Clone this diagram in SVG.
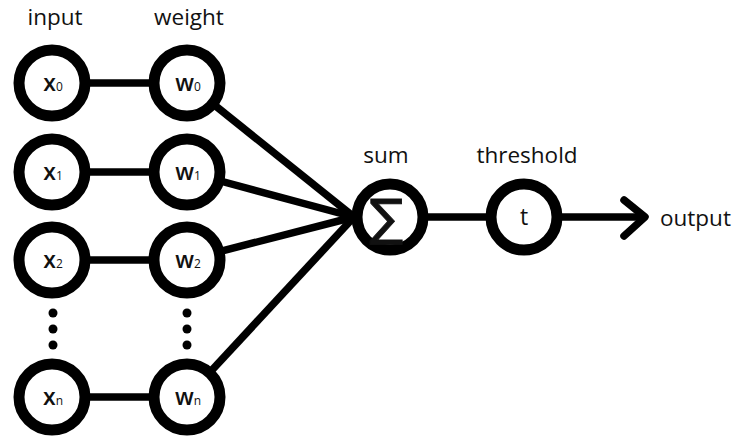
<svg xmlns="http://www.w3.org/2000/svg" width="737" height="439" viewBox="0 0 737 439">
  <style>
    .node { fill: #fff; stroke: #000; stroke-width: 11; }
    .edge { stroke: #000; stroke-width: 7.5; fill: none; }
    .lbl { font-family: "Open Sans", "Noto Sans", "DejaVu Sans", sans-serif; font-size: 22.5px; fill: #111; }
    .sym { font-family: "Open Sans", "Noto Sans", "DejaVu Sans", sans-serif; font-size: 23px; font-weight: 600; fill: #111; text-anchor: middle; }
    .sub { font-size: 12px; font-weight: 400; }
  </style>
  <rect width="737" height="439" fill="#fff"/>

  <g id="connectors">
    <line class="edge" x1="52" y1="83" x2="187" y2="83"/>
    <line class="edge" x1="52" y1="172" x2="187" y2="172"/>
    <line class="edge" x1="52" y1="260" x2="187" y2="260"/>
    <line class="edge" x1="52" y1="397" x2="187" y2="397"/>
    <line class="edge" x1="187" y1="83" x2="354" y2="217"/>
    <line class="edge" x1="187" y1="172" x2="354" y2="217"/>
    <line class="edge" x1="187" y1="260" x2="354" y2="217"/>
    <line class="edge" x1="187" y1="397" x2="354" y2="217"/>
    <line class="edge" x1="390" y1="217" x2="524" y2="217"/>
    <line class="edge" x1="524" y1="217" x2="644" y2="217"/>
    <polyline class="edge" points="624,200 645,217 624,236" stroke-linecap="round" stroke-linejoin="round" stroke-width="8"/>
    <!-- ellipsis dots between rows -->
    <circle cx="53" cy="313" r="4.5" fill="#000"/>
    <circle cx="53" cy="329" r="4.5" fill="#000"/>
    <circle cx="53" cy="345" r="4.5" fill="#000"/>
    <circle cx="187" cy="313" r="4.5" fill="#000"/>
    <circle cx="187" cy="329" r="4.5" fill="#000"/>
    <circle cx="187" cy="345" r="4.5" fill="#000"/>
  </g>

  <text class="lbl" x="55" y="25" text-anchor="middle">input</text>
  <text class="lbl" x="189" y="25" text-anchor="middle">weight</text>
  <text class="lbl" x="386" y="163" text-anchor="middle">sum</text>
  <text class="lbl" x="527" y="163" text-anchor="middle">threshold</text>
  <text class="lbl" x="660" y="226">output</text>

  <g id="x0"><circle class="node" cx="52" cy="83" r="33"/><text class="sym" x="53" y="91">x<tspan class="sub">0</tspan></text></g>
  <g id="x1"><circle class="node" cx="52" cy="172" r="33"/><text class="sym" x="53" y="180">x<tspan class="sub">1</tspan></text></g>
  <g id="x2"><circle class="node" cx="52" cy="260" r="33"/><text class="sym" x="53" y="268">x<tspan class="sub">2</tspan></text></g>
  <g id="xn"><circle class="node" cx="52" cy="397" r="33"/><text class="sym" x="53" y="405">x<tspan class="sub">n</tspan></text></g>

  <g id="w0"><circle class="node" cx="187" cy="83" r="33"/><text class="sym" x="188" y="91">w<tspan class="sub">0</tspan></text></g>
  <g id="w1"><circle class="node" cx="187" cy="172" r="33"/><text class="sym" x="188" y="180">w<tspan class="sub">1</tspan></text></g>
  <g id="w2"><circle class="node" cx="187" cy="260" r="33"/><text class="sym" x="188" y="268">w<tspan class="sub">2</tspan></text></g>
  <g id="wn"><circle class="node" cx="187" cy="397" r="33"/><text class="sym" x="188" y="405">w<tspan class="sub">n</tspan></text></g>

  <g id="sum"><circle class="node" cx="390" cy="217" r="33"/><text x="386" y="235" text-anchor="middle" style="font-size:50px;font-family:'DejaVu Sans',sans-serif;fill:#111;stroke:#111;stroke-width:0.9">∑</text></g>
  <g id="threshold"><circle class="node" cx="524" cy="217" r="33"/><text class="sym" x="524" y="225" style="font-weight:400">t</text></g>
</svg>
